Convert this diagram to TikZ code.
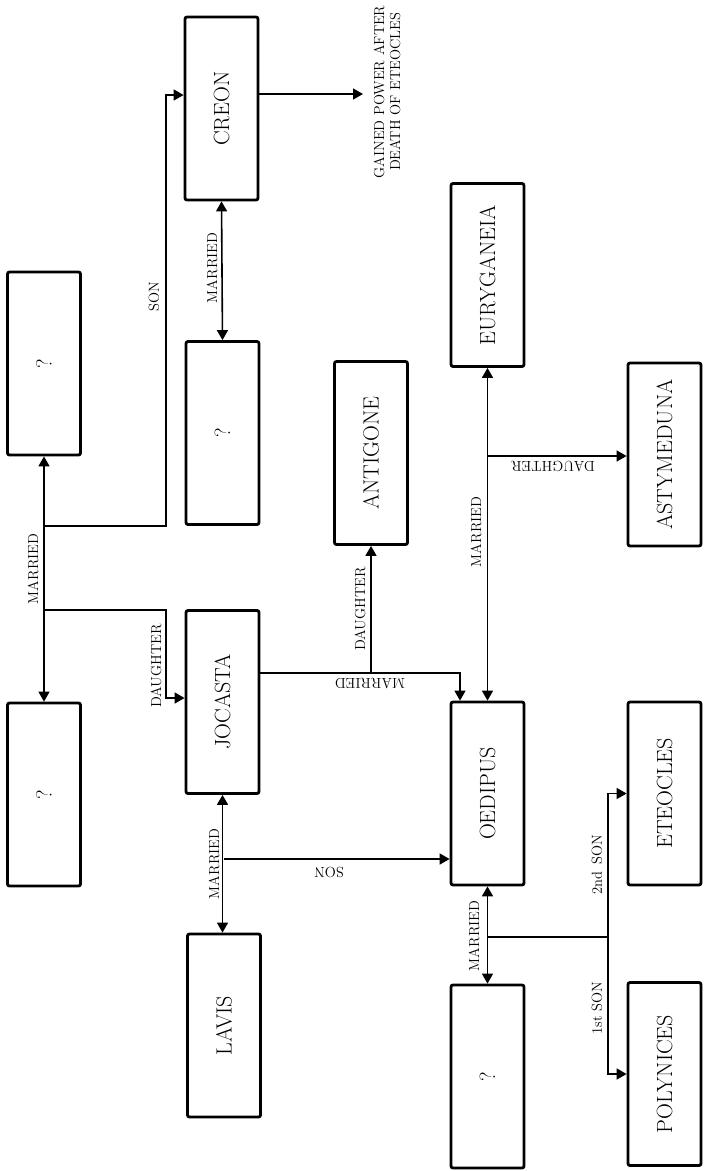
\documentclass[tikz,border=0pt]{standalone}
\usepackage{graphicx}
\usetikzlibrary{arrows.meta}

\tikzset{
  person/.style={draw,line width=2.8pt,rounded corners=2pt,minimum width=73pt,minimum height=183pt,inner sep=0pt,font=\fontsize{22}{26}\selectfont},
  rel/.style={line width=1.6pt,-{Triangle[length=10pt,width=11pt]}},
  wed/.style={line width=1.6pt,{Triangle[length=10pt,width=11pt]}-{Triangle[length=10pt,width=11pt]}},
  lbl/.style={font=\fontsize{14.5}{16}\selectfont,inner sep=0pt,rotate=90},
  flip/.style={font=\fontsize{14.5}{16}\selectfont,inner sep=0pt,rotate=180}
}

\begin{document}
\begin{tikzpicture}[x=1pt,y=-1pt]
      \useasboundingbox (0,0) rectangle (706,1171);
      \node[person] (creon) at (221.5,108.5) {\rotatebox{90}{CREON}};
      \node[person] (q1) at (44,363.5) {\rotatebox{90}{?}};
      \node[person] (q2) at (222.5,433) {\rotatebox{90}{?}};
      \node[person] (q3) at (44,794.5) {\rotatebox{90}{?}};
      \node[person] (jocasta) at (222.5,702) {\rotatebox{90}{JOCASTA}};
      \node[person] (lavis) at (224,1025.5) {\rotatebox{90}{LAVIS}};
      \node[person] (antigone) at (371,453) {\rotatebox{90}{ANTIGONE}};
      \node[person] (oedipus) at (487.5,793.5) {\rotatebox{90}{OEDIPUS}};
      \node[person] (q4) at (487.5,1076.5) {\rotatebox{90}{?}};
      \node[person] (euryganeia) at (487.5,275) {\rotatebox{90}{EURYGANEIA}};
      \node[person] (astymeduna) at (664.5,454.5) {\rotatebox{90}{ASTYMEDUNA}};
      \node[person] (eteocles) at (664.5,793.5) {\rotatebox{90}{ETEOCLES}};
      \node[person] (polynices) at (664.5,1074) {\rotatebox{90}{POLYNICES}};

      \coordinate (ja) at (44,526);
      \coordinate (jb) at (44,610);
      \coordinate (ka) at (166,95);
      \coordinate (kb) at (166,698);
      \coordinate (gp) at (363,94);
      \coordinate (jl) at (224,859);
      \coordinate (jo) at (460,673);
      \coordinate (da) at (371,673);
      \coordinate (de) at (487.5,456);
      \coordinate (so) at (487.5,937);
      \coordinate (sf) at (608,937);

      \draw[wed] (q1.south) -- (q3.north);
      \draw[rel] (ja) -| (ka) -- (ka -| creon.west);
      \draw[rel] (jb) -| (kb) -- (kb -| jocasta.west);
      \draw[wed] (creon.south) -- (q2.north);
      \draw[rel] (gp -| creon.east) -- (gp);
      \draw[wed] (jocasta.south) -- (jocasta.south |- lavis.north);
      \draw[rel] (jl) -- (jl -| oedipus.west);
      \draw[rel] (jo -| jocasta.east) -- (jo) -- (jo |- oedipus.north);
      \draw[rel] (da) -- (da |- antigone.south);
      \draw[wed] (euryganeia.south) -- (oedipus.north);
      \draw[rel] (de) -- (de -| astymeduna.west);
      \draw[wed] (oedipus.south) -- (q4.north);
      \draw[line width=1.6pt] (so) -- (sf);
      \draw[rel] (sf) |- (eteocles.west);
      \draw[rel] (sf) |- (polynices.west);

      \node[lbl] (l1) at (33,569) {MARRIED};
      \node[lbl] (l2) at (154,297) {SON};
      \node[lbl] (l3) at (212,268) {MARRIED};
      \node[lbl] (l4) at (156,666) {DAUGHTER};
      \node[lbl] (l5) at (214,864) {MARRIED};
      \node[flip] (l6) at (329,872) {SON};
      \node[flip] (l7) at (370,684) {MARRIED};
      \node[lbl] (l8) at (360,609) {DAUGHTER};
      \node[lbl] (l9) at (476,532) {MARRIED};
      \node[flip] (l10) at (553,467) {DAUGHTER};
      \node[lbl] (l11) at (474,936) {MARRIED};
      \node[lbl] (l12) at (597,865) {2nd\enspace SON};
      \node[lbl] (l13) at (597,1008) {1st SON};
      \node[lbl,align=center] (gain) at (387,92) {GAINED POWER AFTER\\DEATH OF ETEOCLES};
    \end{tikzpicture}
\end{document}
